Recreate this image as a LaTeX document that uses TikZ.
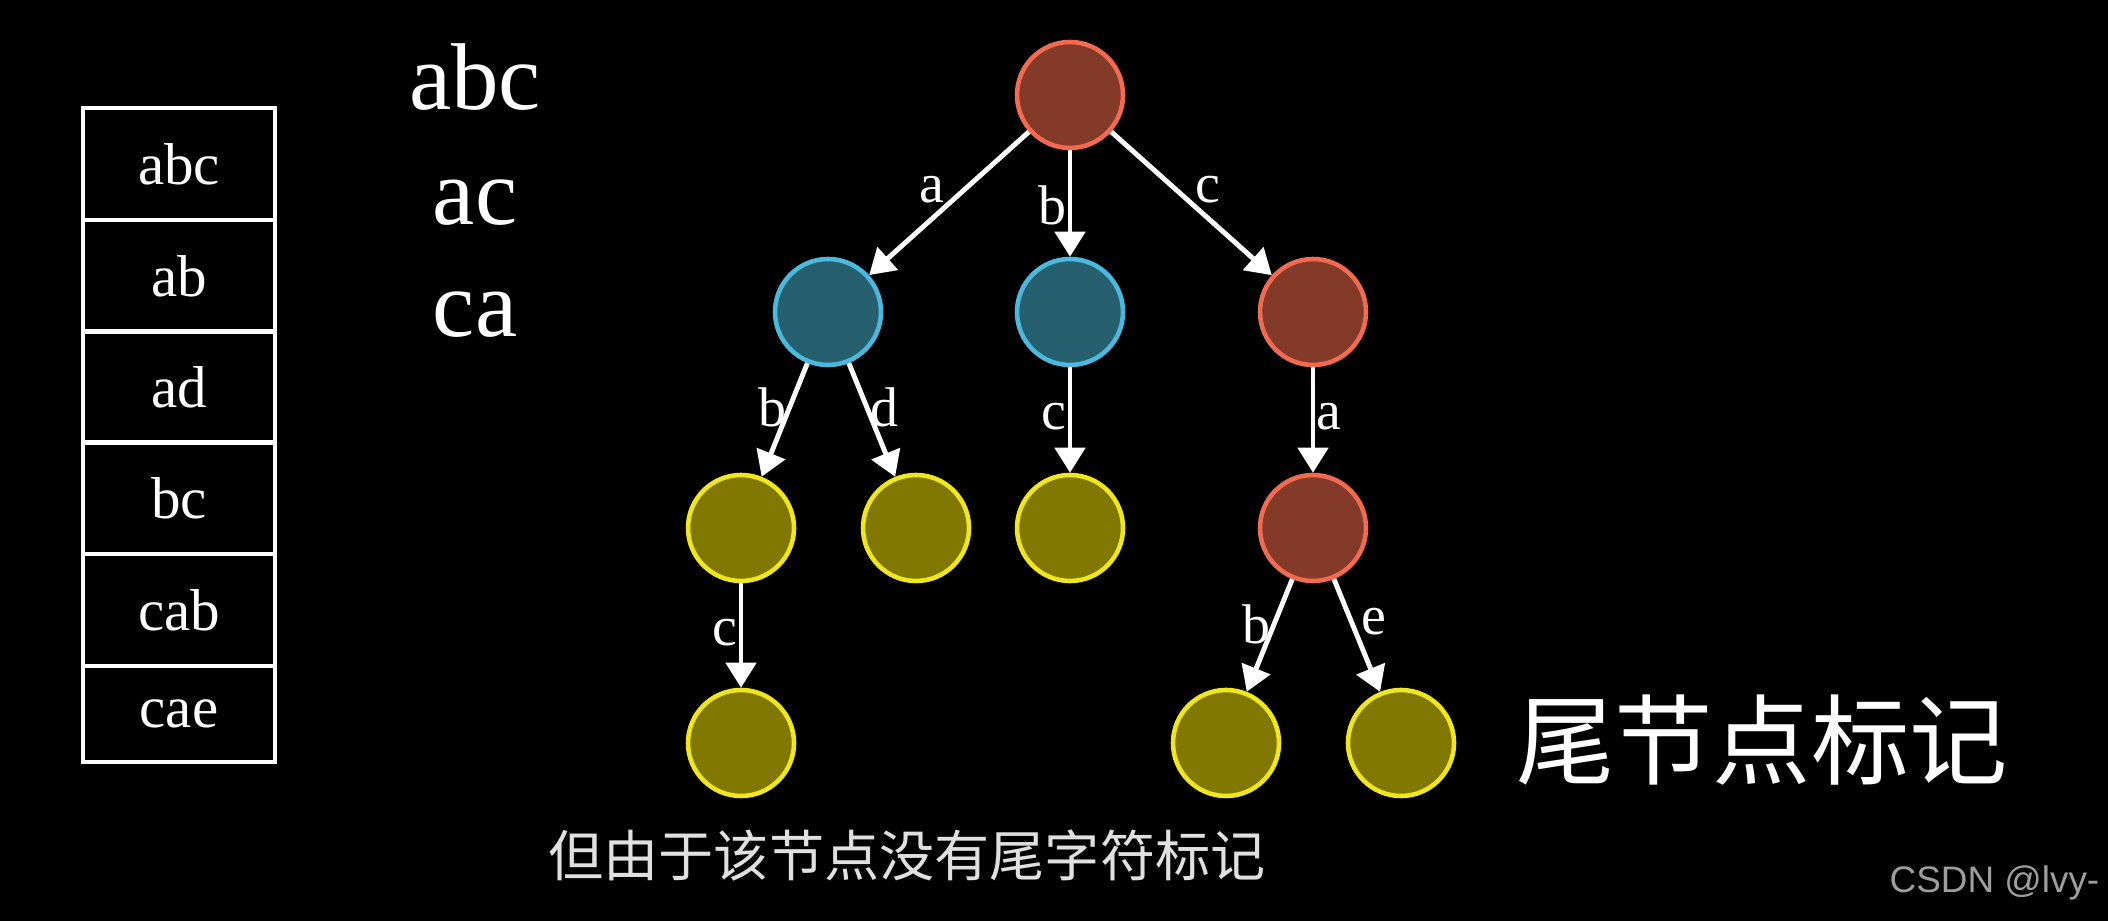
\documentclass[tikz,border=0pt]{standalone}
\usepackage{fontspec}
\setmainfont{Liberation Serif}
\newfontfamily\cjk{Noto Sans CJK SC}
\newfontfamily\wmfont{Liberation Sans}
\usetikzlibrary{arrows.meta}
\definecolor{redfill}{RGB}{132,58,40}
\definecolor{redline}{RGB}{242,107,80}
\definecolor{bluefill}{RGB}{38,96,111}
\definecolor{blueline}{RGB}{75,184,222}
\definecolor{yelfill}{RGB}{128,120,0}
\definecolor{yelline}{RGB}{240,230,30}
\tikzset{
  trnode/.style={circle, line width=1.3pt, minimum size=1.06cm, inner sep=0pt},
  rednode/.style={trnode, draw=redline, fill=redfill},
  bluenode/.style={trnode, draw=blueline, fill=bluefill},
  yelnode/.style={trnode, draw=yelline, fill=yelfill},
  edge/.style={white, line width=1.4pt, -{Triangle[length=0.25cm, width=0.3cm]}},
  lbl/.style={text=white, inner sep=0.3pt, font=\fontsize{15.9}{18}\selectfont},
  cell/.style={draw=white, line width=1.3pt, text=white, minimum width=1.92cm, minimum height=1.12cm, inner sep=0pt, font=\fontsize{16.8}{20}\selectfont},
  word/.style={text=white, anchor=base, inner sep=0pt, font=\fontsize{27}{30}\selectfont}
}
\begin{document}
\begin{tikzpicture}
    \fill[black] (0,0) rectangle (21.08,9.21);
    \useasboundingbox (0,0) rectangle (21.08,9.21);

    \node[cell] (w1) at (1.79,7.57) {abc};
    \node[cell] (w2) at (1.79,6.45) {ab};
    \node[cell] (w3) at (1.79,5.34) {ad};
    \node[cell] (w4) at (1.79,4.23) {bc};
    \node[cell] (w5) at (1.79,3.11) {cab};
    \node[cell, minimum height=0.96cm] (w6) at (1.79,2.07) {cae};

    \node[word] (q1) at (4.75,8.11) {abc};
    \node[word] (q2) at (4.75,6.96) {ac};
    \node[word] (q3) at (4.75,5.84) {ca};

    \node[rednode] (root) at (10.70,8.26) {};
    \node[bluenode] (A) at (8.28,6.09) {};
    \node[bluenode] (B) at (10.70,6.09) {};
    \node[rednode] (C) at (13.13,6.09) {};
    \node[yelnode] (Ab) at (7.41,3.93) {};
    \node[yelnode] (Ad) at (9.16,3.93) {};
    \node[yelnode] (Bc) at (10.70,3.93) {};
    \node[rednode] (Ca) at (13.13,3.93) {};
    \node[yelnode] (Abc) at (7.41,1.78) {};
    \node[yelnode] (Cab) at (12.26,1.78) {};
    \node[yelnode] (Cae) at (14.01,1.78) {};

    \draw[edge] (root) -- node[lbl, pos=0.40, left=0.17cm] {a} (A);
    \draw[edge] (root) -- node[lbl, pos=0.52, left=0pt] {b} (B);
    \draw[edge] (root) -- node[lbl, pos=0.40, right=0.17cm] {c} (C);
    \draw[edge] (A) -- node[lbl, pos=0.39, left] {b} (Ab);
    \draw[edge] (A) -- node[lbl, pos=0.39, right] {d} (Ad);
    \draw[edge] (B) -- node[lbl, pos=0.47, left] {c} (Bc);
    \draw[edge] (C) -- node[lbl, pos=0.47, right] {a} (Ca);
    \draw[edge] (Ab) -- node[lbl, pos=0.47, left] {c} (Abc);
    \draw[edge] (Ca) -- node[lbl, pos=0.40, left] {b} (Cab);
    \draw[edge] (Ca) -- node[lbl, pos=0.38, right=0.06cm] {e} (Cae);

    \node[text=white, font=\cjk\fontsize{28}{32}\selectfont] (tailmark) at (17.62,1.81) {尾节点标记};
    \node[text=white!88!black, font=\cjk\fontsize{15.7}{19}\selectfont] (subtitle) at (9.07,0.66) {但由于该节点没有尾字符标记};
    \node[text=white!62!black, anchor=east, inner sep=0pt, font=\wmfont\fontsize{10.5}{12}\selectfont] (wm) at (21.00,0.38) {CSDN @lvy-};
\end{tikzpicture}
\end{document}
